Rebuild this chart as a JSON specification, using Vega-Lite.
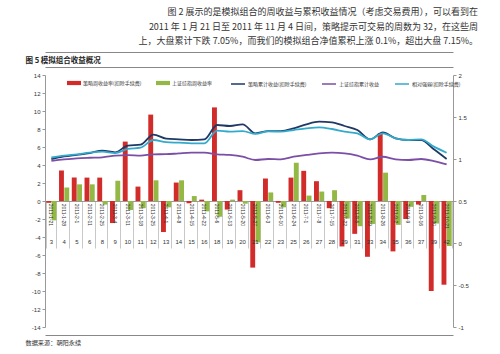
{
  "$schema": "https://vega.github.io/schema/vega-lite/v6.json",
  "autosize": {"type": "none"},
  "width": 408,
  "height": 252,
  "padding": {"left": 45, "top": 75, "right": 47, "bottom": 27},
  "background": "white",
  "config": {
    "view": {"stroke": null},
    "font": "Noto Sans CJK SC",
    "axis": {"labelFont": "Liberation Sans", "labelFontSize": 6, "labelColor": "#333", "domainColor": "#999", "tickColor": "#999", "tickSize": 3, "labelPadding": 2, "titleFont": "Noto Sans CJK SC", "grid": false},
    "legend": {"labelFont": "Noto Sans CJK SC", "labelColor": "#333", "labelFontSize": 5}
  },
  "title": {
    "text": ["图 2 展示的是模拟组合的周收益与累积收益情况（考虑交易费用），可以看到在", "2011 年 1 月 21 日至 2011 年 11 月 4 日间，策略提示可交易的周数为 32，在这些周", "上，大盘累计下跌 7.05%，而我们的模拟组合净值累积上涨 0.1%，超出大盘 7.15%。"],
    "anchor": "end", "frame": "group", "dx": 25, "offset": 6,
    "font": "Noto Sans CJK SC", "fontSize": 9, "fontWeight": "normal", "color": "#333", "lineHeight": 14.5
  },
  "datasets": {
    "w": [
      {"wk":"3","date":"2011-1-21","r":-0.2,"g":-2.15,"sc":1.0,"ic":0.979,"rs":1.018},
      {"wk":"4","date":"2011-1-28","r":3.4,"g":1.5,"sc":1.03,"ic":0.995,"rs":1.04},
      {"wk":"5","date":"2011-2-1","r":2.6,"g":1.85,"sc":1.05,"ic":1.008,"rs":1.056},
      {"wk":"6","date":"2011-2-11","r":2.6,"g":1.85,"sc":1.07,"ic":1.015,"rs":1.075},
      {"wk":"8","date":"2011-2-25","r":2.6,"g":-0.4,"sc":1.1,"ic":1.02,"rs":1.087},
      {"wk":"9","date":"2011-3-4","r":-2.45,"g":2.25,"sc":1.08,"ic":1.04,"rs":1.07},
      {"wk":"10","date":"2011-3-11","r":6.6,"g":-1.0,"sc":1.16,"ic":1.047,"rs":1.12},
      {"wk":"11","date":"2011-3-18","r":1.6,"g":-0.8,"sc":1.17,"ic":1.04,"rs":1.135},
      {"wk":"12","date":"2011-3-25","r":9.6,"g":2.3,"sc":1.29,"ic":1.056,"rs":1.226},
      {"wk":"13","date":"2011-4-1","r":-3.45,"g":-0.7,"sc":1.243,"ic":1.057,"rs":1.2},
      {"wk":"14","date":"2011-4-8","r":2.05,"g":2.3,"sc":1.234,"ic":1.067,"rs":1.194},
      {"wk":"15","date":"2011-4-15","r":-0.25,"g":0.55,"sc":1.226,"ic":1.075,"rs":1.187},
      {"wk":"16","date":"2011-4-22","r":0.15,"g":-1.15,"sc":1.234,"ic":1.075,"rs":1.187},
      {"wk":"18","date":"2011-5-6","r":10.4,"g":-1.75,"sc":1.405,"ic":1.056,"rs":1.337},
      {"wk":"19","date":"2011-5-13","r":-0.95,"g":0.15,"sc":1.393,"ic":1.048,"rs":1.325},
      {"wk":"20","date":"2011-5-20","r":1.2,"g":-0.3,"sc":1.413,"ic":1.027,"rs":1.333},
      {"wk":"21","date":"2011-5-27","r":-7.4,"g":-4.6,"sc":1.306,"ic":0.988,"rs":1.298},
      {"wk":"22","date":"2011-6-3","r":2.5,"g":0.95,"sc":1.333,"ic":1.0,"rs":1.33},
      {"wk":"23","date":"2011-6-10","r":-0.2,"g":-0.7,"sc":1.333,"ic":0.996,"rs":1.325},
      {"wk":"25","date":"2011-6-24","r":2.6,"g":4.25,"sc":1.365,"ic":1.027,"rs":1.345},
      {"wk":"26","date":"2011-7-1","r":3.35,"g":0.6,"sc":1.413,"ic":1.048,"rs":1.365},
      {"wk":"27","date":"2011-7-8","r":2.2,"g":1.05,"sc":1.444,"ic":1.067,"rs":1.377},
      {"wk":"28","date":"2011-7-15","r":-0.8,"g":1.2,"sc":1.437,"ic":1.075,"rs":1.357},
      {"wk":"29","date":"2011-7-22","r":-5.05,"g":-1.95,"sc":1.393,"ic":1.067,"rs":1.325},
      {"wk":"31","date":"2011-8-5","r":-3.65,"g":-2.8,"sc":1.345,"ic":1.04,"rs":1.306},
      {"wk":"33","date":"2011-8-19","r":-6.2,"g":-2.55,"sc":1.234,"ic":0.996,"rs":1.234},
      {"wk":"34","date":"2011-8-26","r":7.5,"g":3.15,"sc":1.317,"ic":1.027,"rs":1.306},
      {"wk":"35","date":"2011-9-2","r":-5.6,"g":-2.65,"sc":1.246,"ic":0.996,"rs":1.246},
      {"wk":"36","date":"2011-9-9","r":-2.0,"g":-0.65,"sc":1.226,"ic":0.988,"rs":1.226},
      {"wk":"37","date":"2011-9-16","r":-0.4,"g":0.67,"sc":1.226,"ic":1.0,"rs":1.234},
      {"wk":"39","date":"2011-9-30","r":-10.0,"g":-2.5,"sc":1.115,"ic":0.976,"rs":1.147},
      {"wk":"42","date":"2011-10-21","r":-9.3,"g":-5.0,"sc":1.0,"ic":0.935,"rs":1.075}
    ]
  },
  "data": {"name": "w"},
  "layer": [
    {
      "transform": [{"fold": ["r", "g"], "as": ["s", "v"]}],
      "mark": {"type": "bar"},
      "encoding": {
        "x": {"field": "wk", "type": "ordinal", "sort": null,
          "scale": {"paddingInner": 0.2, "paddingOuter": 0.1},
          "axis": {"orient": "bottom", "offset": -126, "labels": false, "tickBand": "extent", "tickSize": 47, "tickColor": "#c8c8c8", "domainColor": "#999", "title": null}},
        "xOffset": {"field": "s", "sort": ["r", "g"], "scale": {"paddingInner": 0.08}},
        "y": {"field": "v", "type": "quantitative", "scale": {"domain": [-14, 14], "nice": false},
          "axis": {"values": [-14,-12,-10,-8,-6,-4,-2,0,2,4,6,8,10,12,14], "labelExpr": "'' + datum.value", "title": null}},
        "color": {"field": "s", "type": "nominal",
          "scale": {"domain": ["r", "g"], "range": ["#D12B2A", "#93B944"]},
          "legend": {"orient": "none", "legendX": 22, "legendY": 1, "direction": "horizontal", "title": null,
            "labelExpr": "datum.value == 'r' ? '策略周收益率(扣除手续费)' : '上证综指周收益率'",
            "symbolType": "M-1,-0.3H1V0.3H-1Z", "symbolSize": 196, "symbolStrokeWidth": 0, "columnPadding": 14, "labelOffset": 2}}
      }
    },
    {
      "transform": [{"fold": ["sc", "ic", "rs"], "as": ["t", "c"]}],
      "mark": {"type": "line", "strokeWidth": 1.8, "interpolate": "monotone"},
      "encoding": {
        "x": {"field": "wk", "type": "ordinal", "sort": null,
          "axis": {"orient": "top", "offset": 8, "labels": false, "ticks": false, "domainColor": "#888",
            "title": "图 5 模拟组合收益概况", "titleAnchor": "start", "titleAlign": "left", "titleX": -20, "titleY": -3, "titleBaseline": "bottom", "titleFontSize": 7.5, "titleFontWeight": "bold", "titleColor": "#222"}},
        "y": {"field": "c", "type": "quantitative", "scale": {"domain": [-1, 2], "nice": false, "zero": false},
          "axis": {"orient": "right", "values": [-1, -0.5, 0, 0.5, 1, 1.5, 2], "labelExpr": "'' + datum.value", "title": null}},
        "color": {"field": "t", "type": "nominal",
          "scale": {"domain": ["sc", "ic", "rs"], "range": ["#1F3864", "#7B4FA6", "#33AACB"]},
          "legend": {"orient": "none", "legendX": 185, "legendY": 1, "direction": "horizontal", "title": null,
            "labelExpr": "datum.value == 'sc' ? '策略累计收益(扣除手续费)' : datum.value == 'ic' ? '上证综指累计收益' : '相对强弱(扣除手续费)'",
            "symbolType": "stroke", "symbolSize": 196, "symbolStrokeWidth": 1.5, "columnPadding": 12, "labelOffset": 2}}
      }
    },
    {
      "mark": {"type": "text", "angle": 90, "align": "left", "baseline": "middle", "fontSize": 5, "font": "Liberation Sans", "color": "#333"},
      "encoding": {
        "x": {"field": "wk", "type": "ordinal", "sort": null,
          "axis": {"orient": "top", "offset": 23, "labels": false, "ticks": false, "domainColor": "#888", "title": null}},
        "y": {"datum": -0.3, "type": "quantitative", "scale": {"domain": [-14, 14], "nice": false}, "axis": null},
        "text": {"field": "date"}
      }
    },
    {
      "mark": {"type": "text", "baseline": "middle", "fontSize": 6, "font": "Liberation Sans", "color": "#333"},
      "encoding": {
        "x": {"field": "wk", "type": "ordinal", "sort": null,
          "axis": {"orient": "bottom", "offset": 8, "labels": false, "ticks": false, "domainColor": "#888",
            "title": "数据来源：朝阳永续", "titleAnchor": "start", "titleAlign": "left", "titleX": -20, "titleY": 7, "titleBaseline": "middle", "titleFontSize": 6.2, "titleFontWeight": "normal", "titleColor": "#333"}},
        "y": {"datum": -4.55, "type": "quantitative", "scale": {"domain": [-14, 14], "nice": false}, "axis": null},
        "text": {"field": "wk"}
      }
    }
  ],
  "resolve": {"scale": {"y": "independent", "color": "independent"}, "axis": {"x": "independent"}}
}
